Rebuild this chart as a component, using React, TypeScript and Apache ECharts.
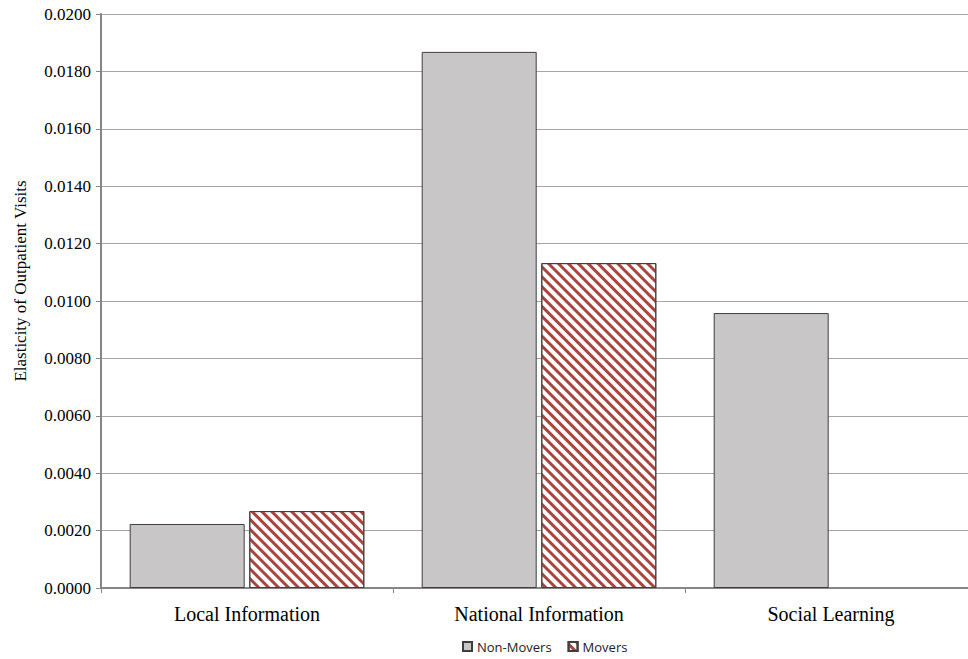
import React, { useEffect, useRef } from "react";
import * as echarts from "echarts";

const categories = ["Local Information", "National Information", "Social Learning"];
const nonMovers = [0.00223, 0.01868, 0.00958];
const movers: (number | null)[] = [0.00268, 0.01132, null];
const yTicks = { min: 0, max: 0.02, interval: 0.002 };
const yTitle = "Elasticity of Outpatient Visits";

export default function App() {
  const ref = useRef<HTMLDivElement>(null);
  useEffect(() => {
    if (!ref.current) return;
    const chart = echarts.init(ref.current, undefined, { renderer: "svg" });
    const serif = "Liberation Serif";
    chart.setOption({
      animation: false,
      backgroundColor: "#ffffff",
      grid: { left: 101, top: 14, width: 876, height: 574, containLabel: false, outerBoundsMode: "none" },
      legend: {
        top: 640,
        left: 462,
        padding: 0,
        icon: "rect",
        itemWidth: 9,
        itemHeight: 9,
        itemGap: 16,
        textStyle: { fontFamily: "Open Sans", fontSize: 13, color: "#222" },
        data: ["Non-Movers", "Movers"],
      },
      graphic: [
        {
          type: "text",
          x: 20,
          y: 281,
          rotation: Math.PI / 2,
          style: {
            text: yTitle,
            fontFamily: serif,
            fontSize: 17,
            fill: "#000",
            align: "center",
            verticalAlign: "middle",
          },
        },
      ],
      xAxis: {
        type: "category",
        data: categories,
        axisLine: { lineStyle: { color: "#868686", width: 2 } },
        axisTick: { show: true, length: 5, lineStyle: { color: "#868686", width: 1 } },
        axisLabel: { fontFamily: serif, fontSize: 20, color: "#000", margin: 16 },
      },
      yAxis: {
        type: "value",
        min: yTicks.min,
        max: yTicks.max,
        interval: yTicks.interval,
        axisLine: { show: true, lineStyle: { color: "#868686", width: 2 } },
        axisTick: { show: true, length: 5, lineStyle: { color: "#868686", width: 1 } },
        axisLabel: {
          fontFamily: serif,
          fontSize: 17,
          color: "#000",
          margin: 10,
          formatter: (v: number) => v.toFixed(4),
        },
        splitLine: { show: true, lineStyle: { color: "#a6a6a6", width: 1 } },
      },
      series: [
        {
          name: "Non-Movers",
          type: "bar",
          data: nonMovers,
          barWidth: 115,
          barGap: "4%",
          itemStyle: { color: "#c8c6c6", borderColor: "#3f3f3f", borderWidth: 1 },
        },
        {
          name: "Movers",
          type: "bar",
          data: movers,
          barWidth: 115,
          barGap: "4%",
          itemStyle: {
            color: "#ffffff",
            borderColor: "#3f3f3f",
            borderWidth: 1,
            decal: {
              symbol: "rect",
              symbolSize: 1,
              color: "#a8453f",
              dashArrayX: [1, 0],
              dashArrayY: [3, 3.5],
              rotation: Math.PI / 4,
            },
          },
        },
      ],
    });
    return () => chart.dispose();
  }, []);
  return (
    <div
      ref={ref}
      style={{ position: "fixed", left: 0, top: 0, width: 968, height: 659, background: "#fff" }}
    />
  );
}
